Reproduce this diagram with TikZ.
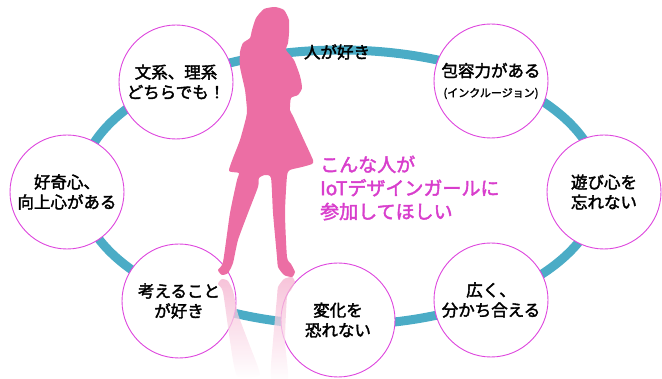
\documentclass[tikz,border=0pt]{standalone}
\usepackage{fontspec}
\setmainfont{Noto Sans CJK JP}[BoldFont={Noto Sans CJK JP},BoldFeatures={FakeBold=2.2}]
\definecolor{ringteal}{RGB}{75,172,198}
\definecolor{bubbleedge}{RGB}{222,70,222}
\definecolor{girlpink}{RGB}{236,110,164}
\definecolor{callout}{RGB}{216,62,204}
\tikzset{
  bubble/.style={circle,draw=bubbleedge,line width=.9pt,fill=white,
    minimum size=114pt,inner sep=0pt,align=center,
    font=\bfseries\fontsize{16.5}{20}\selectfont},
  reflect/.style={shade,top color=girlpink!55,bottom color=white,opacity=.75}
}
\begin{document}
\begin{tikzpicture}[x=1pt,y=-1pt]
\useasboundingbox (0,0) rectangle (662,379);

% the ring
\draw[ringteal,line width=9pt] (340,187.5) ellipse [x radius=260, y radius=137.5];
\node[font=\bfseries\fontsize{16.5}{20}\selectfont,inner sep=0pt] (like) at (337,52) {人が好き};

% bubbles round the ring
\node[bubble] (bunri)  at (176,82)  {文系、理系\\どちらでも！};
\node[bubble] (hoyo)   at (491,81)  {包容力がある\\{\fontsize{11}{13}\selectfont (インクルージョン)}};
\node[bubble] (kouki)  at (67,192)  {好奇心、\\向上心がある};
\node[bubble] (asobi)  at (604,192) {遊び心を\\忘れない};
\node[bubble] (kangae) at (179,301) {考えること\\が好き};
\node[bubble] (henka)  at (338,320) {変化を\\恐れない};
\node[bubble] (wakachi) at (491,300) {広く、\\分かち合える};

% reflection of the legs
\path[reflect] plot[smooth cycle,tension=.35] coordinates {
 (288,380) (285,341) (287,297) (291,290) (295,282) (292,277) (284,279) (278,287) (277,297) (273,341) (271,378)};
\path[reflect] plot[smooth cycle,tension=.35] coordinates {
 (259,376) (258,367) (248,341) (238,314) (233,291) (228,281) (222,279) (218,284) (223,292) (230,341) (237,376)};

% the girl
\fill[girlpink] plot[smooth cycle,tension=.35] coordinates {
 (275,7) (284,10) (289,20) (289,33) (288,43) (286,50) (294,60) (300,76) (302,88)
 (298,95) (291,98) (290,110) (293,116) (303,138) (313,160) (312,164) (302,167)
 (290,170) (287,176) (285,213) (287,257) (291,264) (295,272) (292,277) (284,275)
 (278,267) (277,257) (273,213) (271,178) (265,175) (259,178) (258,187) (248,213)
 (238,240) (233,263) (228,273) (222,275) (218,270) (223,262) (230,213) (237,180)
 (239,173) (229,171) (233,158) (240,140) (246,118) (247,110) (245,90) (240,67)
 (240,52) (243,43) (250,38) (252,30) (256,18) (264,9)};

\node[anchor=west,align=left,inner sep=0pt,text=callout,
  font=\bfseries\fontsize{19}{23.5}\selectfont] (wanted) at (320,188)
  {こんな人が\\IoTデザインガールに\\参加してほしい};
\end{tikzpicture}
\end{document}
